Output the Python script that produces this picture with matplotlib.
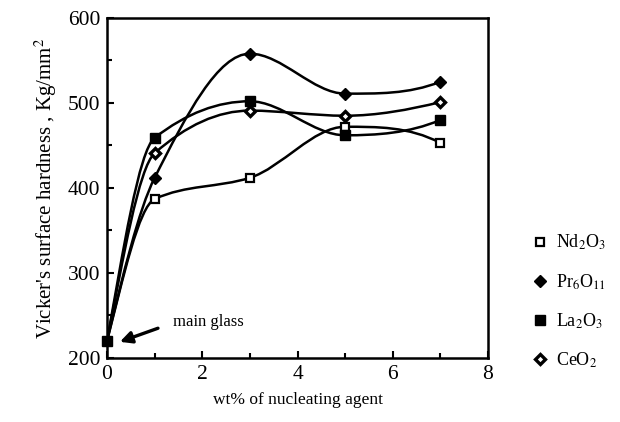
import numpy as np
import matplotlib
matplotlib.use("Agg")
import matplotlib.pyplot as plt
from matplotlib.path import Path
from matplotlib.patches import PathPatch

plt.rcParams['font.family'] = ['Liberation Serif', 'DejaVu Serif']
plt.rcParams['mathtext.fontset'] = 'stix'

# data
wt = [0, 1, 3, 5, 7]
nd2o3 = [220, 387, 412, 472, 453]
pr6o11 = [220, 412, 558, 511, 525]
la2o3 = [220, 459, 502, 462, 480]
ceo2 = [220, 441, 491, 485, 501]
main_glass = 220


def smooth_path(x, y):
    # monotone cubic (pchip-like) curve through the points, as bezier segments
    x = np.asarray(x, float)
    y = np.asarray(y, float)
    n = len(x)
    h = np.diff(x)
    d = np.diff(y) / h
    m = np.zeros(n)
    for k in range(1, n - 1):
        if d[k - 1] * d[k] > 0:
            w1 = 2 * h[k] + h[k - 1]
            w2 = h[k] + 2 * h[k - 1]
            m[k] = (w1 + w2) / (w1 / d[k - 1] + w2 / d[k])
    m[0] = ((2 * h[0] + h[1]) * d[0] - h[0] * d[1]) / (h[0] + h[1])
    m[-1] = ((2 * h[-1] + h[-2]) * d[-1] - h[-1] * d[-2]) / (h[-1] + h[-2])
    if m[-1] * d[-1] <= 0:
        m[-1] = 0
    verts = [(x[0], y[0])]
    codes = [Path.MOVETO]
    for i in range(n - 1):
        t = h[i] / 3
        verts += [(x[i] + t, y[i] + m[i] * t),
                  (x[i + 1] - t, y[i + 1] - m[i + 1] * t),
                  (x[i + 1], y[i + 1])]
        codes += [Path.CURVE4] * 3
    return Path(verts, codes)


fig = plt.figure(figsize=(6.2, 4.22), dpi=100)
ax = fig.add_axes([0.1726, 0.1517, 0.6145, 0.8057])

series = [
    (nd2o3, 's', 'white', 1.6, 5.5, 'Nd$_2$O$_3$'),
    (pr6o11, 'D', 'black', 1.0, 6, 'Pr$_6$O$_{11}$'),
    (la2o3, 's', 'black', 1.0, 7, 'La$_2$O$_3$'),
    (ceo2, 'D', 'white', 2.4, 5.5, 'CeO$_2$'),
]

handles = []
for vals, mk, fc, mew, ms, lab in series:
    ax.add_patch(PathPatch(smooth_path(wt, vals), fill=False, lw=1.8,
                           edgecolor='black', zorder=2))
    h, = ax.plot(wt[1:], vals[1:], ls='none', marker=mk, mfc=fc, mec='black',
                 mew=mew, ms=ms, color='black', zorder=3, label=lab)
    handles.append(h)

ax.plot([0], [main_glass], ls='none', marker='s', mfc='black', mec='black',
        ms=7, zorder=4, clip_on=False)
ax.annotate('', xy=(0.27, 219), xytext=(1.07, 235),
            arrowprops=dict(arrowstyle='-|>,head_length=0.7,head_width=0.35',
                            lw=2.4, color='black', shrinkA=0, shrinkB=0))
ax.text(1.39, 242, 'main glass', fontsize=12, va='center', ha='left')

ax.set_xlim(0, 8)
ax.set_ylim(200, 600)
ax.set_xticks([0, 2, 4, 6, 8])
ax.set_xticks([1, 3, 5, 7], minor=True)
ax.set_yticks([200, 300, 400, 500, 600])
ax.set_yticks([250, 350, 450, 550], minor=True)
ax.tick_params(which='both', direction='in', width=1.5, labelsize=15.5,
               top=False, right=False)
ax.tick_params(which='major', length=5, pad=5)
ax.tick_params(which='minor', length=3.5)
for s in ax.spines.values():
    s.set_linewidth(1.8)

ax.set_xlabel('wt% of nucleating agent', fontsize=12.5, labelpad=6)
ax.set_ylabel("Vicker's surface hardness , Kg/mm$^2$", fontsize=15, labelpad=6)

fig.legend(handles=handles, loc='upper left', bbox_to_anchor=(0.85, 0.465),
           frameon=False, fontsize=13, handlelength=0.6, handletextpad=0.6,
           labelspacing=1.1, borderaxespad=0)

fig.savefig('out.png', dpi=100)
